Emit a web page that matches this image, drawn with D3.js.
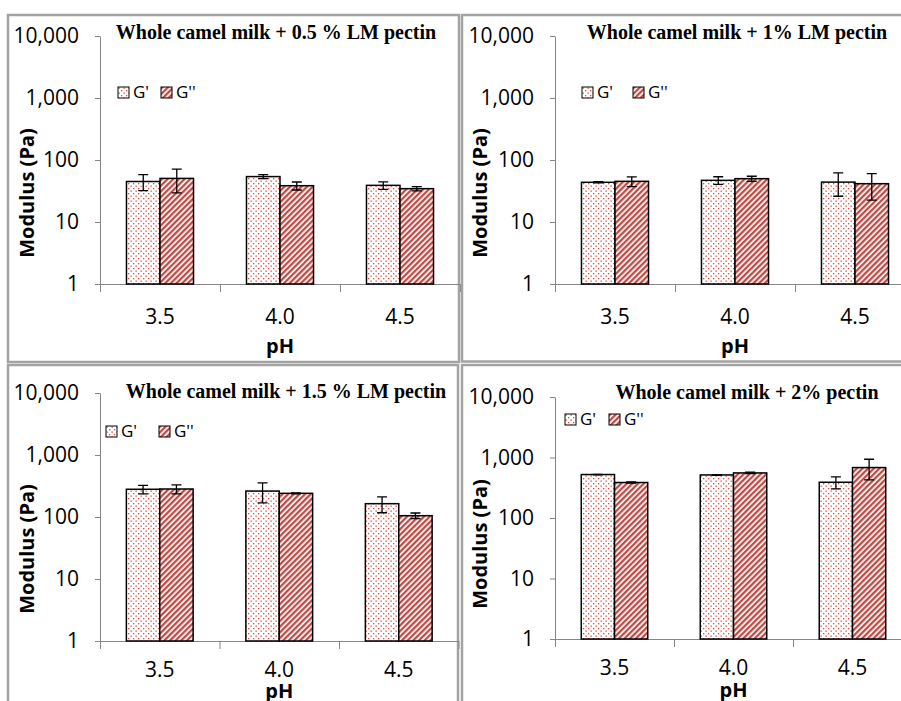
<!DOCTYPE html>
<head>
<meta charset="utf-8">
<title>Modulus of whole camel milk with LM pectin</title>
<script src="https://d3js.org/d3.v7.min.js"></script>
<style>
body {
  margin: 0;
  background: #fff;
  font-family: "Open Sans", sans-serif;
}
.frame {
  fill: none;
  stroke: #a3a3a3;
  stroke-width: 2.5;
}
.axis path, .axis line {
  stroke: #868686;
  stroke-width: 1;
}
.axis text {
  font-family: "Open Sans", sans-serif;
  font-size: 21px;
  fill: #000;
}
.cat-label {
  font-size: 21px;
  text-anchor: middle;
}
.axis-title {
  font-weight: bold;
  font-size: 20px;
  text-anchor: middle;
}
.panel-title {
  font-family: "Liberation Serif", "Times New Roman", serif;
  font-weight: bold;
  font-size: 20px;
  text-anchor: middle;
}
.legend text {
  font-size: 17px;
}
.bar {
  stroke: #000;
  stroke-width: 1.5;
}
.err {
  stroke: #000;
  stroke-width: 1.3;
  fill: none;
}
</style>
</head>
<body>
<script>

const phLevels = ["3.5", "4.0", "4.5"];
const seriesNames = ["G'", "G''"];
const yTickValues = [1, 10, 100, 1000, 10000];
const panelTitles = [
  "Whole camel milk + 0.5 % LM pectin",
  "Whole camel milk + 1% LM pectin",
  "Whole camel milk + 1.5 % LM pectin",
  "Whole camel milk + 2% pectin"
];

// G' (storage) and G'' (loss) in Pa, with error bars
const gStorage05 = [45, 54, 39];
const gStorage05Err = [13, 4, 5.5];
const gLoss05 = [50.5, 38.5, 34.5];
const gLoss05Err = [21, 5.7, 2.8];

const gStorage10 = [43.7, 47, 44];
const gStorage10Err = [1, 6.7, 18];
const gLoss10 = [45.3, 50, 41.5];
const gLoss10Err = [8, 4.7, 19];

const gStorage15 = [280, 262, 164];
const gStorage15Err = [44, 93, 47];
const gLoss15 = [283, 241, 105];
const gLoss15Err = [47, 4, 11];

const gStorage20 = [523, 515, 390];
const gStorage20Err = [5, 8, 87];
const gLoss20 = [386, 556, 682];
const gLoss20Err = [10, 15, 254];

// layout of the four panels
const panels = [
  {title: panelTitles[0], vals: [gStorage05, gLoss05], errs: [gStorage05Err, gLoss05Err],
   frame: [8, 15, 451, 347], axisX: 100, top: 36, bottom: 284, step: 120,
   titleX: 276, titleY: 32, legendX: 118, legendY: 87, legendGap: 43,
   yTitleX: 27, yTitleY: 193, tickY: 317, phY: 346},
  {title: panelTitles[1], vals: [gStorage10, gLoss10], errs: [gStorage10Err, gLoss10Err],
   frame: [462, 15, 470, 346.5], axisX: 555, top: 36, bottom: 284, step: 120,
   titleX: 737, titleY: 32, legendX: 582, legendY: 87, legendGap: 51,
   yTitleX: 480, yTitleY: 193, tickY: 317, phY: 346},
  {title: panelTitles[2], vals: [gStorage15, gLoss15], errs: [gStorage15Err, gLoss15Err],
   frame: [8, 365, 450, 400], axisX: 100, top: 393, bottom: 641, step: 119.5,
   titleX: 286, titleY: 391, legendX: 106, legendY: 426, legendGap: 53,
   yTitleX: 27, yTitleY: 549, tickY: 670, phY: 691},
  {title: panelTitles[3], vals: [gStorage20, gLoss20], errs: [gStorage20Err, gLoss20Err],
   frame: [462, 365, 470, 400], axisX: 555, top: 397, bottom: 639, step: 119,
   titleX: 747, titleY: 392, legendX: 565, legendY: 414, legendGap: 44,
   yTitleX: 480, yTitleY: 544, tickY: 668, phY: 690}
];

const width = 901,
  height = 701;

const svg = d3.select("body").append("svg")
  .attr("width", width)
  .attr("height", height);

// fill patterns: dotted for G', hatched for G''
const defs = svg.append("defs");

const dots = defs.append("pattern")
  .attr("id", "dots")
  .attr("patternUnits", "userSpaceOnUse")
  .attr("width", 5)
  .attr("height", 5);
dots.append("rect").attr("width", 5).attr("height", 5).attr("fill", "#fff");
dots.append("rect").attr("x", 0.5).attr("y", 0.5).attr("width", 1.3).attr("height", 1.3).attr("fill", "#dc4b42");
dots.append("rect").attr("x", 3).attr("y", 3).attr("width", 1.3).attr("height", 1.3).attr("fill", "#dc4b42");

const stripes = defs.append("pattern")
  .attr("id", "stripes")
  .attr("patternUnits", "userSpaceOnUse")
  .attr("width", 4)
  .attr("height", 4)
  .attr("patternTransform", "rotate(45)");
stripes.append("rect").attr("width", 4).attr("height", 4).attr("fill", "#fff");
stripes.append("rect").attr("width", 2.3).attr("height", 4).attr("fill", "#bf4a44");

const fills = ["url(#dots)", "url(#stripes)"];

panels.forEach(p => {
  const g = svg.append("g");

  g.append("rect")
    .attr("class", "frame")
    .attr("x", p.frame[0])
    .attr("y", p.frame[1])
    .attr("width", p.frame[2])
    .attr("height", p.frame[3]);

  const x0 = d3.scaleBand()
    .domain(phLevels)
    .range([p.axisX, p.axisX + p.step * phLevels.length]);

  const x1 = d3.scaleBand()
    .domain(seriesNames)
    .range([0, x0.bandwidth()])
    .paddingOuter(0.79);

  const y = d3.scaleLog()
    .domain([1, 10000])
    .range([p.bottom, p.top]);

  // y axis
  g.append("g")
    .attr("class", "axis")
    .attr("transform", "translate(" + p.axisX + ",0)")
    .call(d3.axisLeft(y)
      .tickValues(yTickValues)
      .tickFormat(d3.format(","))
      .tickSize(5)
      .tickSizeOuter(0)
      .tickPadding(16));

  // x axis with ticks between categories (Excel style)
  const xb = d3.scaleLinear()
    .domain([0, phLevels.length])
    .range(x0.range());
  g.append("g")
    .attr("class", "axis")
    .attr("transform", "translate(0," + p.bottom + ")")
    .call(d3.axisBottom(xb)
      .tickValues(d3.range(phLevels.length + 1))
      .tickFormat("")
      .tickSize(8)
      .tickSizeOuter(0));

  g.selectAll(".cat-label")
    .data(phLevels)
    .enter().append("text")
      .attr("class", "cat-label")
      .attr("x", d => x0(d) + x0.bandwidth() / 2)
      .attr("y", p.tickY)
      .attr("dy", "0.35em")
      .text(d => d);

  // bars + error bars
  seriesNames.forEach((s, j) => {
    const rows = phLevels.map((ph, i) => ({ph: ph, v: p.vals[j][i], e: p.errs[j][i]}));
    const cx = d => x0(d.ph) + x1(s) + x1.bandwidth() / 2;

    g.append("g").selectAll("rect")
      .data(rows)
      .enter().append("rect")
        .attr("class", "bar")
        .attr("x", d => x0(d.ph) + x1(s))
        .attr("y", d => y(d.v))
        .attr("width", x1.bandwidth())
        .attr("height", d => y(1) - y(d.v))
        .style("fill", fills[j]);

    g.append("g").selectAll("path")
      .data(rows)
      .enter().append("path")
        .attr("class", "err")
        .attr("d", d => {
          const hi = y(d.v + d.e), lo = y(d.v - d.e), c = cx(d);
          return "M" + (c - 5) + "," + hi + "H" + (c + 5) +
            "M" + c + "," + hi + "V" + lo +
            "M" + (c - 5) + "," + lo + "H" + (c + 5);
        });
  });

  // legend
  const legend = g.append("g")
    .attr("class", "legend")
    .selectAll("g")
    .data(seriesNames)
    .enter().append("g")
      .attr("transform", (d, j) => "translate(" + (p.legendX + j * p.legendGap) + "," + p.legendY + ")");
  legend.append("rect")
    .attr("width", 11)
    .attr("height", 11)
    .attr("stroke", "#000")
    .attr("stroke-width", 1)
    .style("fill", (d, j) => fills[j]);
  legend.append("text")
    .attr("x", 15)
    .attr("y", 5.5)
    .attr("dy", "0.35em")
    .text(d => d);

  // titles
  g.append("text")
    .attr("class", "panel-title")
    .attr("x", p.titleX)
    .attr("y", p.titleY)
    .attr("dy", "0.35em")
    .text(p.title);

  g.append("text")
    .attr("class", "axis-title")
    .attr("transform", "translate(" + p.yTitleX + "," + p.yTitleY + ") rotate(-90)")
    .attr("dy", "0.35em")
    .text("Modulus (Pa)");

  g.append("text")
    .attr("class", "axis-title")
    .attr("x", x0.range()[0] + (x0.range()[1] - x0.range()[0]) / 2)
    .attr("y", p.phY)
    .attr("dy", "0.35em")
    .text("pH");
});

</script>
</body>
